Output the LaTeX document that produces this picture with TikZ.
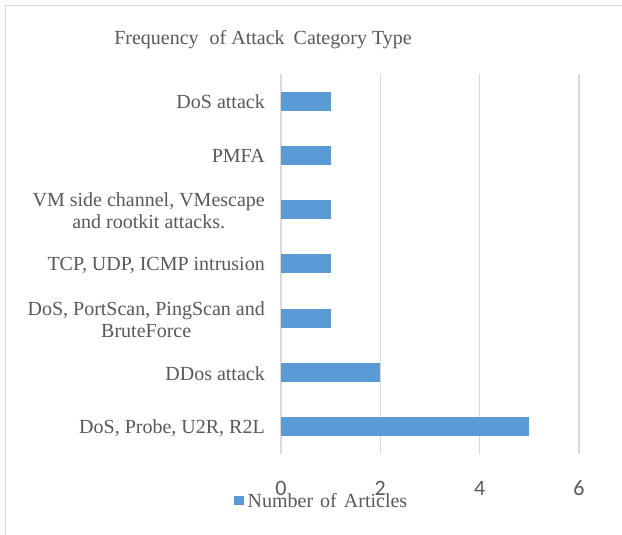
\documentclass[tikz,border=0pt]{standalone}
\usepackage{fontspec}
\setmainfont{Liberation Serif}
\newfontfamily\ticksfont{Carlito}
\definecolor{txtgrey}{HTML}{595959}
\definecolor{gridgrey}{HTML}{D9D9D9}
\definecolor{barblue}{HTML}{5B9BD5}
\begin{document}
\begin{tikzpicture}[x=1pt,y=-1pt,
  catlabel/.style={anchor=east,align=center,inner sep=0pt,text=txtgrey,
    font=\fontsize{20}{22}\selectfont},
  ticklabel/.style={inner sep=0pt,text=txtgrey,font=\ticksfont\fontsize{22}{24}\selectfont},
  gridline/.style={draw=gridgrey,line width=1.5pt},
  bar/.style={fill=barblue},
  frameline/.style={draw=gridgrey,line width=1.3pt}]
\useasboundingbox (0,0) rectangle (622,535);
\fill[white] (0,0) rectangle (622,535);
% chart frame (top and left edges)
\draw[frameline] (5.5,535) -- (5.5,5.5) -- (622,5.5);

% title
\node[anchor=base,inner sep=0pt,text=txtgrey,font=\fontsize{20}{22}\selectfont] (title)
  at (263,45) {Frequency\hspace{6pt} of Attack\hspace{4pt} Category Type};

% vertical gridlines and value labels
\foreach \v/\nm in {0/g0,2/g2,4/g4,6/g6}{
  \coordinate (\nm top) at ({281+49.65*\v},74);
  \coordinate (\nm bot) at ({281+49.65*\v},454);
  \draw[gridline] (\nm top) -- (\nm bot);
  \node[ticklabel] (\nm lab) at ({281+49.65*\v},488) {\v};
}

% bars with category labels
\foreach \i/\val/\nm/\txt in {
  0/1/c1/{DoS attack},
  1/1/c2/{PMFA},
  2/1/c3/{VM side channel, VMescape\\and rootkit attacks.},
  3/1/c4/{TCP, UDP, ICMP intrusion},
  4/1/c5/{DoS, PortScan, PingScan and\\BruteForce},
  5/2/c6/{DDos attack},
  6/5/c7/{DoS, Probe, U2R, R2L}}{
  \fill[bar] (281,{101.1+54.29*\i-9.5}) rectangle ({281+49.65*\val},{101.1+54.29*\i+9.5});
  \node[catlabel] (\nm) at (265,{101.1+54.29*\i+1}) {\txt};
}

% legend
\fill[barblue] (234,495.5) rectangle (243.5,504.5);
\node[anchor=base west,inner sep=0pt,text=txtgrey,font=\fontsize{20}{22}\selectfont] (legend)
  at (247.5,507) {\spaceskip=7pt Number of Articles};
\end{tikzpicture}
\end{document}
